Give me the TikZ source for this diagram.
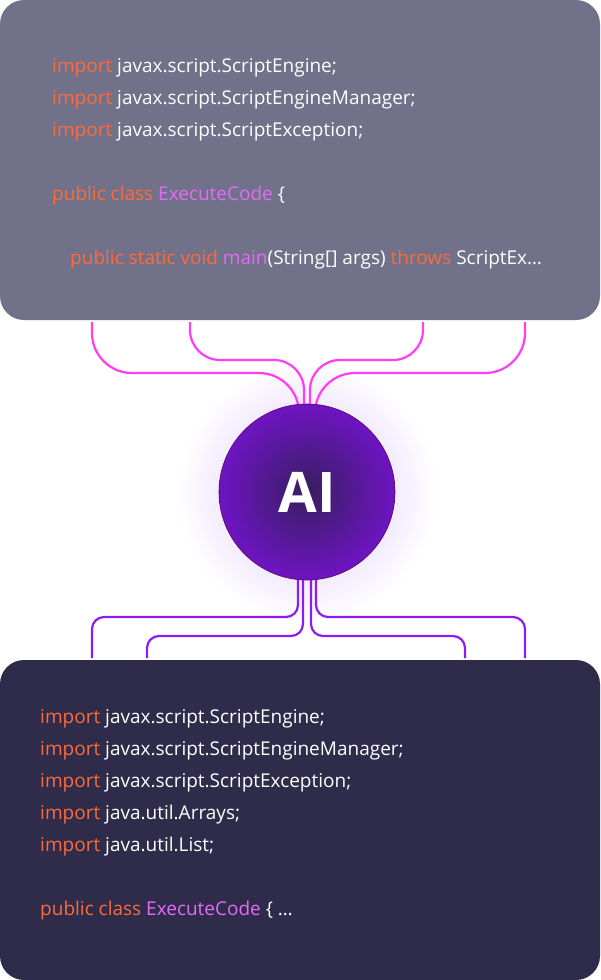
\documentclass[tikz,border=0pt]{standalone}
\usepackage{fontspec}
\setmainfont{Open Sans}
\definecolor{kw}{HTML}{FF6A3A}
\definecolor{nm}{HTML}{E46BF5}
\definecolor{topbox}{HTML}{71718A}
\definecolor{botbox}{HTML}{2E2C4A}
\definecolor{wirein}{HTML}{FF3DF5}
\definecolor{wireout}{HTML}{8A1EF2}
\definecolor{glow}{HTML}{D9C2FA}
\newcommand{\kw}[1]{\textcolor{kw}{#1}}
\newcommand{\nm}[1]{\textcolor{nm}{#1}}
\tikzset{
  codeline/.style={anchor=west, text=white, font=\fontsize{19}{22}\selectfont, inner sep=0pt},
  panel/.style={rounded corners=24pt, draw=none},
  wire/.style={line width=2.2pt, rounded corners=40pt}
}
\begin{document}
\begin{tikzpicture}[x=1pt,y=-1pt]
\useasboundingbox (0,0) rectangle (600,980);

\fill[topbox,panel] (0,0) rectangle (600,320);
\fill[botbox,panel] (0,660) rectangle (600,980);

\node[codeline] (t1) at (52,68)  {\kw{import} javax.script.ScriptEngine;};
\node[codeline] (t2) at (52,100) {\kw{import} javax.script.ScriptEngineManager;};
\node[codeline] (t3) at (52,132) {\kw{import} javax.script.ScriptException;};
\node[codeline] (t4) at (52,196) {\kw{public class} \nm{ExecuteCode} \{};
\node[codeline] (t5) at (70,260) {\kw{public static void} \nm{main}(String[] args) \kw{throws} ScriptEx…};

\node[codeline] (b1) at (40,719) {\kw{import} javax.script.ScriptEngine;};
\node[codeline] (b2) at (40,751) {\kw{import} javax.script.ScriptEngineManager;};
\node[codeline] (b3) at (40,783) {\kw{import} javax.script.ScriptException;};
\node[codeline] (b4) at (40,815) {\kw{import} java.util.Arrays;};
\node[codeline] (b5) at (40,847) {\kw{import} java.util.List;};
\node[codeline] (b6) at (40,911) {\kw{public class} \nm{ExecuteCode} \{ …};

% glow
\shade[inner color=glow, outer color=white] (307,492) circle (130);

% wires in
\coordinate (i1) at (92,322);
\coordinate (i2) at (190,322);
\coordinate (i3) at (423,322);
\coordinate (i4) at (525,322);
\draw[wire,wirein] (i1) |- (299,373) -- (299,410);
\draw[wire,wirein,rounded corners=30pt] (i2) |- (304,360) -- (304,410);
\draw[wire,wirein,rounded corners=30pt] (i3) |- (310,360) -- (310,410);
\draw[wire,wirein] (i4) |- (315,373) -- (315,410);

% wires out
\coordinate (o1) at (92,658);
\coordinate (o2) at (147,658);
\coordinate (o3) at (465,658);
\coordinate (o4) at (525,658);
\draw[wire,wireout,rounded corners=12pt] (298,575) |- (o1 |- 0,617) -- (o1);
\draw[wire,wireout,rounded corners=12pt] (303,575) |- (o2 |- 0,636) -- (o2);
\draw[wire,wireout,rounded corners=12pt] (311,575) |- (o3 |- 0,636) -- (o3);
\draw[wire,wireout,rounded corners=12pt] (316,575) |- (o4 |- 0,617) -- (o4);

% core
\node[circle, minimum size=176pt, inner sep=0pt, draw=violet!70!black, line width=0.6pt,
      inner color={rgb,255:red,55;green,30;blue,95}, outer color={rgb,255:red,110;green,20;blue,195},
      text=white, font=\bfseries\fontsize{56}{60}\selectfont] (ai) at (307,492) {AI};
\end{tikzpicture}
\end{document}
